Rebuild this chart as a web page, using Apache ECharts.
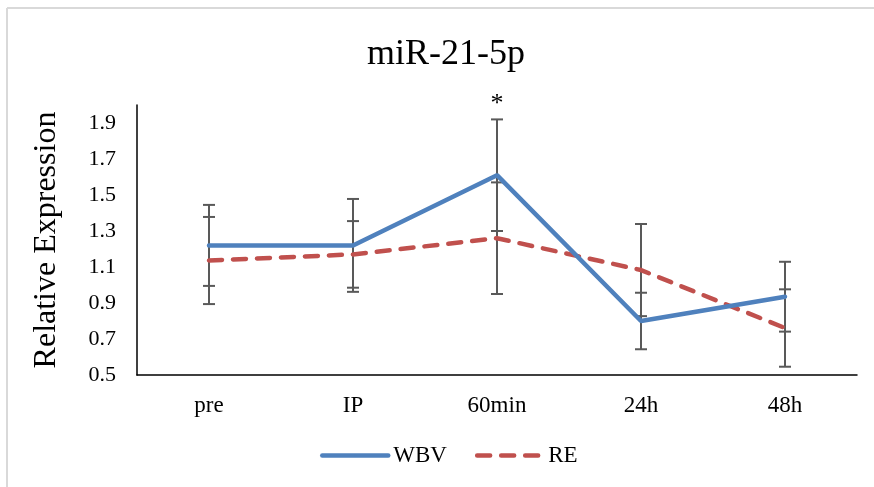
<!DOCTYPE html>
<html>
<head>
<meta charset="utf-8">
<script src="https://cdn.jsdelivr.net/npm/echarts@6/dist/echarts.min.js"></script>
<style>html,body{margin:0;padding:0;background:#fff}#c{width:874px;height:487px}</style>
</head>
<body>
<div id="c"></div>
<script>
const categories = ['pre', 'IP', '60min', '24h', '48h'];
const wbv = [1.22, 1.22, 1.61, 0.80, 0.935];
const wbvErr = [0.225, 0.258, 0.31, 0.157, 0.194];
const re = [1.136, 1.17, 1.26, 1.083, 0.761];
const reErr = [0.242, 0.185, 0.31, 0.256, 0.215];
const wbvSig = ['', '', '*', '', ''];
const yMin = 0.5, yMax = 2.0, yStep = 0.2;

const FONT = '"Liberation Serif", "Times New Roman", serif';
const chart = echarts.init(document.getElementById('c'), null, {renderer: 'canvas'});

function errRender(errs, sigs) {
  return function (params, api) {
    const i = api.value(0);
    const v = api.value(1);
    const e = errs[i];
    const top = api.coord([i, v + e]);
    const bot = api.coord([i, v - e]);
    const w = 6;
    const st = {stroke: '#595959', lineWidth: 2};
    const children = [
      {type: 'line', shape: {x1: top[0], y1: top[1], x2: bot[0], y2: bot[1]}, style: st},
      {type: 'line', shape: {x1: top[0] - w, y1: top[1], x2: top[0] + w, y2: top[1]}, style: st},
      {type: 'line', shape: {x1: bot[0] - w, y1: bot[1], x2: bot[0] + w, y2: bot[1]}, style: st}
    ];
    if (sigs && sigs[i]) {
      children.push({type: 'text', x: top[0], y: top[1] - 2,
        style: {text: sigs[i], font: '26px ' + FONT, fill: '#000', align: 'center', verticalAlign: 'bottom'}});
    }
    return {type: 'group', children: children};
  };
}

chart.setOption({
  backgroundColor: '#fff',
  animation: false,
  title: {
    text: 'miR-21-5p', left: 362, top: 32,
    textStyle: {fontFamily: FONT, fontSize: 36, fontWeight: 'normal', color: '#000'}
  },
  graphic: [
    {type: 'line', shape: {x1: 7, y1: 8, x2: 874, y2: 8}, style: {stroke: '#d9d9d9', lineWidth: 2}},
    {type: 'line', shape: {x1: 7, y1: 8, x2: 7, y2: 487}, style: {stroke: '#d9d9d9', lineWidth: 2}}
  ],
  legend: {
    data: ['WBV', 'RE'], left: 315, top: 439,
    itemWidth: 66, itemHeight: 2, itemGap: 28,
    lineStyle: {width: 4.5, cap: 'round'},
    textStyle: {fontFamily: FONT, fontSize: 23, color: '#000'}
  },
  grid: {left: 137, right: 17, top: 105, bottom: 112},
  xAxis: {
    type: 'category', data: categories,
    axisLine: {lineStyle: {color: '#000', width: 1.5}},
    axisTick: {show: false},
    axisLabel: {fontFamily: FONT, fontSize: 23, color: '#000', margin: 19}
  },
  yAxis: {
    type: 'value', min: yMin, max: yMax, interval: yStep,
    name: 'Relative Expression', nameLocation: 'middle', nameGap: 74,
    nameTextStyle: {fontFamily: FONT, fontSize: 32, color: '#000'},
    axisLine: {show: true, lineStyle: {color: '#000', width: 1.5}},
    axisTick: {show: false},
    splitLine: {show: false},
    axisLabel: {fontFamily: FONT, fontSize: 22, color: '#000', margin: 21,
      showMaxLabel: false, formatter: v => v.toFixed(1)}
  },
  series: [
    {type: 'custom', name: 'wbvErr', z: 1, renderItem: errRender(wbvErr, wbvSig),
      data: wbv.map((v, i) => [i, v]), silent: true},
    {type: 'custom', name: 'reErr', z: 1, renderItem: errRender(reErr, null),
      data: re.map((v, i) => [i, v]), silent: true},
    {type: 'line', name: 'WBV', data: wbv, z: 5, symbol: 'none',
      itemStyle: {color: '#4f81bd'},
      lineStyle: {color: '#4f81bd', width: 4.5, cap: 'round'}},
    {type: 'line', name: 'RE', data: re, z: 4, symbol: 'none',
      itemStyle: {color: '#c0504d'},
      lineStyle: {color: '#c0504d', width: 4.5, type: [13, 11], cap: 'round'}}
  ]
});
</script>
</body>
</html>
